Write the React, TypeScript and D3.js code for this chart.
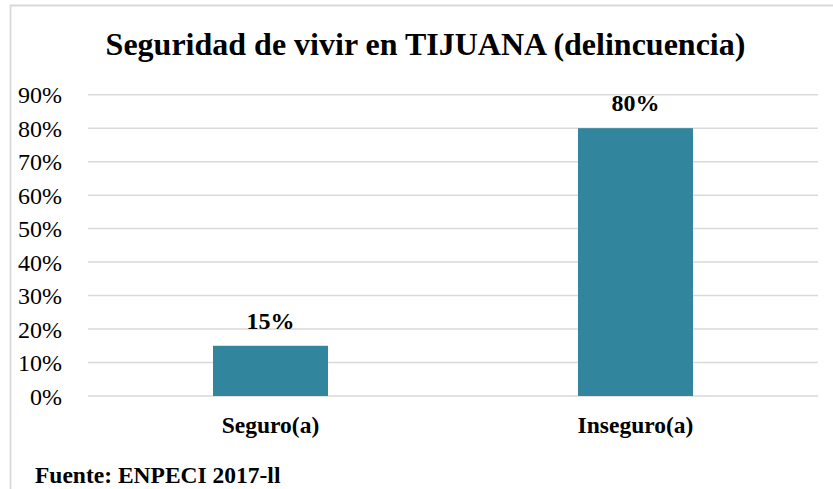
import React from "react";
import * as d3 from "d3";

const categories: string[] = ["Seguro(a)", "Inseguro(a)"];
const values: number[] = [0.15, 0.8];
const valueLabels: string[] = ["15%", "80%"];
const yTicks: number[] = [0, 0.1, 0.2, 0.3, 0.4, 0.5, 0.6, 0.7, 0.8, 0.9];
const title = "Seguridad de vivir en TIJUANA (delincuencia)";
const source = "Fuente: ENPECI 2017-ll";

const W = 833;
const H = 489;
const FONT = "'Liberation Serif', 'Times New Roman', serif";

export default function App() {
  const left = 88;
  const right = 818;
  const top = 94.7;
  const bottom = 396;
  const x = d3.scaleBand<string>().domain(categories).range([left, right]).padding(0);
  const y = d3.scaleLinear().domain([0, 0.9]).range([bottom, top]);
  const barW = x.bandwidth() * 0.315;
  const fmt = d3.format(".0%");
  return (
    <div style={{ position: "fixed", left: 0, top: 0, width: W, height: H, background: "#fff" }}>
      <svg width={W} height={H} style={{ display: "block", fontFamily: FONT }}>
        <rect x={0} y={0} width={W} height={H} fill="#fff" />
        <path d={`M10.5,${H + 5} V5.5 H${W + 5}`} fill="none" stroke="#d9d9d9" strokeWidth={1.8} />
        <text x={425.5} y={55} textAnchor="middle" fontWeight="bold" fontSize={32} fill="#000">
          {title}
        </text>
        {yTicks.map((t) => (
          <g key={t}>
            <line x1={left} x2={right} y1={y(t)} y2={y(t)} stroke="#d9d9d9" strokeWidth={1.5} />
            <text x={62} y={y(t) + 8.5} textAnchor="end" fontSize={24} fill="#000">
              {fmt(t)}
            </text>
          </g>
        ))}
        {categories.map((c, i) => {
          const cx = (x(c) as number) + x.bandwidth() / 2;
          return (
            <g key={c}>
              <rect x={cx - barW / 2} y={y(values[i])} width={barW} height={bottom - y(values[i])} fill="#31859c" />
              <text x={cx} y={y(values[i]) - 17} textAnchor="middle" fontWeight="bold" fontSize={24} fill="#000">
                {valueLabels[i]}
              </text>
              <text x={cx} y={433} textAnchor="middle" fontWeight="bold" fontSize={23.5} fill="#000">
                {c}
              </text>
            </g>
          );
        })}
        <text x={35} y={483} fontWeight="bold" fontSize={23.5} fill="#000">
          {source}
        </text>
      </svg>
    </div>
  );
}
